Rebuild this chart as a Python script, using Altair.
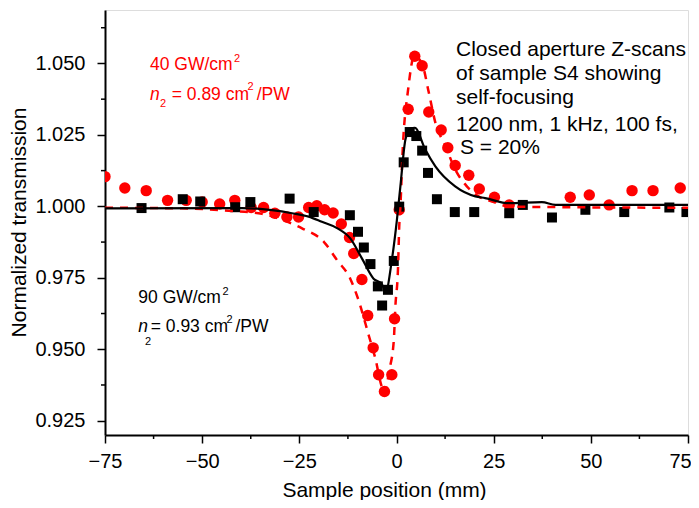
import altair as alt
import pandas as pd

# ---- data ----
red_x = [-75, -69.9, -64.4, -58.9, -54.1, -50.0, -45.5, -41.6, -37.4, -34.2,
         -31.3, -28.2, -25.2, -22.6, -20.5, -18.5, -16.3, -14.2, -12.1, -11.0,
         -8.9, -7.4, -6.0, -4.6, -3.1, -1.2, -0.5, 0.7, 3.0, 4.7,
         6.6, 8.3, 11.5, 13.2, 15.1, 18.6, 21.3, 25.2, 29.0, 44.7,
         49.6, 54.7, 60.6, 66.0, 73.0]
red_y = [1.0104, 1.0064, 1.0055, 1.0021, 1.0021, 1.0015, 1.0008, 1.0021, 0.9996, 0.9996,
         0.9976, 0.9963, 0.9963, 0.9996, 1.0002, 0.9988, 0.9977, 0.9938, 0.9891, 0.9835,
         0.9744, 0.9618, 0.9505, 0.9411, 0.9352, 0.9411, 0.9607, 0.9988, 1.0340, 1.0525,
         1.0492, 1.0330, 1.0267, 1.0205, 1.0143, 1.0109, 1.0061, 1.0032, 1.0005, 1.0032,
         1.0040, 1.0005, 1.0055, 1.0055, 1.0064]

blk_x = [-65.6, -55.0, -50.5, -41.5, -37.6, -27.5, -21.3, -12.0, -9.9, -8.4,
         -6.7, -4.8, -3.7, -2.2, -0.7, 0.7, 1.85, 3.4, 5.1, 6.6,
         8.1, 10.4, 15.0, 20.0, 29.0, 32.5, 40.0, 48.6, 58.6, 70.2,
         74.6]
blk_y = [0.9994, 1.0025, 1.0017, 0.9997, 1.0015, 1.0027, 0.9980, 0.9969, 0.9911, 0.9856,
         0.9798, 0.9720, 0.9653, 0.9708, 0.9809, 0.9999, 1.0154, 1.0260, 1.0246, 1.0195,
         1.0117, 1.0025, 0.9980, 0.9980, 0.9976, 1.0005, 0.9961, 0.9988, 0.9980, 0.9996,
         0.9980]

bfit_x = [-75, -39.7, -26.9, -22.6, -19.2, -15.3, -11.9, -8.9, -5.9, -3.9,
          -2.7, -1.2, 0.1, 1.0, 2.3, 3.6, 4.7, 7.4, 10.0, 15.1,
          20.3, 22.8, 28.9, 37.4, 40.9, 75]
bfit_y = [0.9993, 0.9994, 0.9976, 0.9964, 0.9946, 0.9924, 0.9888, 0.9818, 0.9747, 0.9730,
          0.9706, 0.9812, 0.9952, 1.0070, 1.0234, 1.0272, 1.0275, 1.0199, 1.0140, 1.0070,
          1.0035, 1.0029, 1.0011, 1.0015, 1.0005, 1.0005]

rfit_x = [-75, -55.2, -42.3, -34.6, -28.7, -24.3, -18.7, -15.3, -11.9, -9.9,
          -7.0, -5.5, -3.7, -3.0, -1.9, -0.7, -0.3, 0.4, 0.7, 1.0,
          1.6, 3.0, 4.6, 6.6, 8.3, 10.0, 12.6, 15.1, 18.1, 21.1,
          24.6, 29.3, 75]
rfit_y = [0.9995, 0.9993, 0.9984, 0.9974, 0.9949, 0.9923, 0.9876, 0.9812, 0.9747, 0.9677,
          0.9542, 0.9471, 0.9365, 0.9347, 0.9424, 0.9530, 0.9647, 0.9788, 0.9929, 0.9999,
          1.0199, 1.0410, 1.0527, 1.0498, 1.0399, 1.0293, 1.0211, 1.0129, 1.0070, 1.0035,
          1.0017, 0.9999, 0.9995]

x_ticks = [-75, -50, -25, 0, 25, 50, 75]
x_minor = [-62.5, -37.5, -12.5, 12.5, 37.5, 62.5]
y_ticks = [0.925, 0.950, 0.975, 1.000, 1.025, 1.050]
y_minor = [0.9375, 0.9625, 0.9875, 1.0125, 1.0375, 1.0625]

info_lines = ["Closed aperture Z-scans", "of sample S4 showing", "self-focusing",
              "1200 nm, 1 kHz, 100 fs,", "S = 20%"]

RED = "#ff0000"
FONT = "Liberation Sans"

xs = alt.Scale(domain=[-75, 75], nice=False, zero=False)
ys = alt.Scale(domain=[0.920, 1.0687], nice=False, zero=False)

x_axis = alt.Axis(values=x_ticks, title="Sample position (mm)", grid=False,
                  tickSize=8, tickWidth=1.5, tickColor="black",
                  domainColor="black", domainWidth=2,
                  labelFontSize=20, labelPadding=8, labelColor="black",
                  labelFlush=False,
                  labelOffset={"condition": {"test": "datum.value == 75", "value": -8}, "value": 0},
                  titleFontSize=21, titleFontWeight="normal", titleColor="black",
                  titleX=279, titleY=61, titleBaseline="alphabetic", titleAnchor="middle")
y_axis = alt.Axis(values=y_ticks, format=".3f", title="Normalized transmission", grid=False,
                  tickSize=8, tickWidth=1.5, tickColor="black",
                  domainColor="black", domainWidth=2,
                  labelFontSize=20, labelPadding=12, labelColor="black",
                  labelFlush=False,
                  titleFontSize=21, titleFontWeight="normal", titleColor="black",
                  titleX=-80, titleY=212, titleBaseline="alphabetic", titleAngle=270)

red_df = pd.DataFrame({"x": red_x, "y": red_y})
blk_df = pd.DataFrame({"x": blk_x, "y": blk_y})
bfit_df = pd.DataFrame({"x": bfit_x, "y": bfit_y})
rfit_df = pd.DataFrame({"x": rfit_x, "y": rfit_y})

base_axes = alt.Chart(pd.DataFrame({"x": [-75, 75], "y": [0.920, 1.0687]})).mark_point(opacity=0).encode(
    x=alt.X("x:Q", scale=xs, axis=x_axis),
    y=alt.Y("y:Q", scale=ys, axis=y_axis),
)

circles = alt.Chart(red_df).mark_circle(size=130, color=RED, opacity=1, clip=True).encode(
    x=alt.X("x:Q", scale=xs), y=alt.Y("y:Q", scale=ys))
squares = alt.Chart(blk_df).mark_square(size=100, color="black", opacity=1, clip=True).encode(
    x=alt.X("x:Q", scale=xs), y=alt.Y("y:Q", scale=ys))
rfit = alt.Chart(rfit_df).mark_line(color=RED, strokeWidth=2.5, strokeDash=[8, 7],
                                    interpolate="monotone").encode(
    x=alt.X("x:Q", scale=xs), y=alt.Y("y:Q", scale=ys))
bfit = alt.Chart(bfit_df).mark_line(color="black", strokeWidth=2.2,
                                    interpolate="monotone").encode(
    x=alt.X("x:Q", scale=xs), y=alt.Y("y:Q", scale=ys))

xminor = alt.Chart(pd.DataFrame({"x": x_minor})).mark_rule(color="black", strokeWidth=1.5).encode(
    x=alt.X("x:Q", scale=xs), y=alt.value(425), y2=alt.value(429))
yminor = alt.Chart(pd.DataFrame({"y": y_minor})).mark_rule(color="black", strokeWidth=1.5).encode(
    y=alt.Y("y:Q", scale=ys), x=alt.value(0), x2=alt.value(-4))

one = pd.DataFrame({"a": [0]})


def txt(s, x, y, size=17.5, color="black", style="normal"):
    return alt.Chart(one).mark_text(text=s, align="left", baseline="alphabetic",
                                    fontSize=size, color=color, font=FONT,
                                    fontStyle=style).encode(x=alt.value(x), y=alt.value(y))


texts = [
    # red annotation
    txt("40 GW/cm", 45, 60, color=RED),
    txt("2", 129, 52, size=11, color=RED),
    txt("n", 45, 90, color=RED, style="italic"),
    txt("2", 55, 97, size=11, color=RED),
    txt("= 0.89 cm", 66.7, 90, color=RED),
    txt("2", 142.5, 80, size=11, color=RED),
    txt("/PW", 151.7, 90, color=RED),
    # black annotation
    txt("90 GW/cm", 33.3, 293),
    txt("2", 117.5, 285, size=11),
    txt("n", 33.3, 322, style="italic"),
    txt("2", 40, 335, size=11),
    txt("= 0.93 cm", 45.7, 322),
    txt("2", 121.5, 313, size=11),
    txt("/PW", 130.5, 322),
    # info block
    txt(info_lines[0], 351, 46, size=21),
    txt(info_lines[1], 351, 70, size=21),
    txt(info_lines[2], 351, 94, size=21),
    txt(info_lines[3], 351, 120.7, size=21),
    txt(info_lines[4], 355, 144, size=21),
]

chart = alt.layer(base_axes, xminor, yminor, circles, squares, rfit, bfit, *texts).properties(
    width=583, height=425,
    autosize=alt.AutoSizeParams(type="none"),
    padding={"left": 97, "top": 2, "right": 3, "bottom": 65},
).configure_view(stroke=None).configure(font=FONT)

chart.save("out.html", embed_options={"renderer": "svg", "actions": False})
